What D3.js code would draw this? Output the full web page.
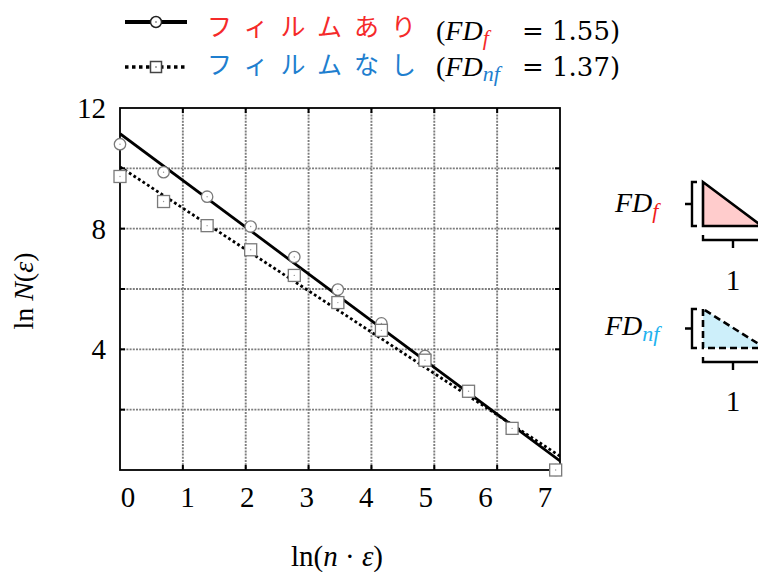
<!DOCTYPE html>
<html>
<head>
<meta charset="utf-8">
<script src="https://cdn.jsdelivr.net/npm/d3@7"></script>
<style>
  html, body { margin: 0; padding: 0; background: #fff; }
  svg { display: block; }
  text { font-family: "Liberation Serif", "Times New Roman", serif; fill: #000; }
  .jp { font-family: "Noto Sans CJK JP", sans-serif; }
  .num { font-family: "DejaVu Serif", serif; }
</style>
</head>
<body>
<svg id="chart" width="758" height="572"></svg>
<script>
// ln(n·ε) for each box size step
const xValues = [0, 0.693, 1.386, 2.079, 2.773, 3.466, 4.159, 4.852, 5.545, 6.238, 6.931];
// ln N(ε) with film
const filmValues = [10.8, 9.87, 9.06, 8.07, 7.06, 5.98, 4.86, 3.78, 2.61, 1.38, 0.0];
// ln N(ε) without film
const noFilmValues = [9.73, 8.90, 8.10, 7.30, 6.45, 5.55, 4.63, 3.64, 2.61, 1.38, 0.0];
// fractal dimensions (slopes of the fitted lines) and fitted intercepts
const fdFilm = 1.55, fdNoFilm = 1.37;
const interceptFilm = 11.15, interceptNoFilm = 10.05;
// axis ticks
const xTicks = [0, 1, 2, 3, 4, 5, 6, 7];
const yGrid = [2, 4, 6, 8, 10];
const yTickLabels = [4, 8, 12];

const svg = d3.select("#chart");
const pLeft = 120, pRight = 560, pTop = 108, pBottom = 470;

const x = d3.scaleLinear().domain([0, 7]).range([pLeft, pRight]);
const y = d3.scaleLinear().domain([0, 12]).range([pBottom, pTop]);
// tick label placement along the bottom edge
const xLabel = d3.scaleLinear().domain([0, 7]).range([128, 545]);

// dotted grid
const grid = svg.append("g").attr("stroke", "#7d7d7d").attr("stroke-width", 1.9)
  .attr("stroke-dasharray", "2,1.2");
grid.selectAll("line.v").data(xTicks.slice(1, -1)).join("line")
  .attr("x1", d => x(d)).attr("x2", d => x(d)).attr("y1", pTop).attr("y2", pBottom);
grid.selectAll("line.h").data(yGrid).join("line")
  .attr("y1", d => y(d)).attr("y2", d => y(d)).attr("x1", pLeft).attr("x2", pRight);

// inward tick marks on all four sides
const ticks = svg.append("g").attr("stroke", "#000").attr("stroke-width", 2);
ticks.selectAll("line.l").data(yGrid).join("line")
  .attr("x1", pLeft).attr("x2", pLeft + 5).attr("y1", d => y(d)).attr("y2", d => y(d));
ticks.selectAll("line.r").data(yGrid).join("line")
  .attr("x1", pRight - 5).attr("x2", pRight).attr("y1", d => y(d)).attr("y2", d => y(d));
ticks.selectAll("line.b").data(xTicks.slice(1, -1)).join("line")
  .attr("x1", d => x(d)).attr("x2", d => x(d)).attr("y1", pBottom).attr("y2", pBottom - 5);
ticks.selectAll("line.t").data(xTicks.slice(1, -1)).join("line")
  .attr("x1", d => x(d)).attr("x2", d => x(d)).attr("y1", pTop).attr("y2", pTop + 5);

// fitted lines, clipped to the frame
svg.append("clipPath").attr("id", "plotClip").append("rect")
  .attr("x", pLeft).attr("y", pTop).attr("width", pRight - pLeft).attr("height", pBottom - pTop);
const fit = (b, s) => [[0, b], [7, b - s * 7]];
const line = d3.line().x(d => x(d[0])).y(d => y(d[1]));
const fits = svg.append("g").attr("clip-path", "url(#plotClip)").attr("fill", "none");
fits.append("path").attr("d", line(fit(interceptNoFilm, fdNoFilm)))
  .attr("stroke", "#000").attr("stroke-width", 2.8).attr("stroke-dasharray", "2.8,2.6");
fits.append("path").attr("d", line(fit(interceptFilm, fdFilm)))
  .attr("stroke", "#000").attr("stroke-width", 2.8);

// frame
svg.append("rect").attr("x", pLeft).attr("y", pTop).attr("width", pRight - pLeft).attr("height", pBottom - pTop)
  .attr("fill", "none").attr("stroke", "#000").attr("stroke-width", 1.8);

// markers: circles (film), squares (no film) on top
const film = xValues.map((v, i) => [v, filmValues[i]]);
const noFilm = xValues.map((v, i) => [v, noFilmValues[i]]);
const circles = svg.append("g");
circles.selectAll("circle.m").data(film).join("circle")
  .attr("cx", d => x(d[0])).attr("cy", d => y(d[1])).attr("r", 5.7)
  .attr("fill", "#fff").attr("stroke", "#7a7a7a").attr("stroke-width", 1.3);
circles.selectAll("circle.c").data(film).join("circle")
  .attr("cx", d => x(d[0])).attr("cy", d => y(d[1])).attr("r", 0.7).attr("fill", "#999");
const squares = svg.append("g");
squares.selectAll("rect").data(noFilm).join("rect")
  .attr("x", d => x(d[0]) - 6).attr("y", d => y(d[1]) - 6).attr("width", 12).attr("height", 12)
  .attr("fill", "#fff").attr("stroke", "#7a7a7a").attr("stroke-width", 1.3);
squares.selectAll("circle").data(noFilm).join("circle")
  .attr("cx", d => x(d[0])).attr("cy", d => y(d[1])).attr("r", 0.7).attr("fill", "#999");

// tick labels
svg.append("g").selectAll("text").data(xTicks).join("text")
  .attr("x", d => xLabel(d)).attr("y", 507).attr("text-anchor", "middle")
  .attr("font-size", 29).text(d => d);
svg.append("g").selectAll("text").data(yTickLabels).join("text")
  .attr("x", 106).attr("y", d => y(d)).attr("dy", "0.34em").attr("text-anchor", "end")
  .attr("font-size", 29).text(d => d);

// axis titles
const xt = svg.append("text").attr("x", 337).attr("y", 566).attr("text-anchor", "middle").attr("font-size", 29);
xt.append("tspan").text("ln(");
xt.append("tspan").attr("font-style", "italic").text("n");
xt.append("tspan").text(" · ");
xt.append("tspan").attr("font-style", "italic").text("ε");
xt.append("tspan").text(")");

const yt = svg.append("text").attr("transform", "translate(33,291) rotate(-90)")
  .attr("text-anchor", "middle").attr("font-size", 28);
yt.append("tspan").text("ln ");
yt.append("tspan").attr("font-style", "italic").text("N");
yt.append("tspan").text("(");
yt.append("tspan").attr("font-style", "italic").text("ε");
yt.append("tspan").text(")");

// legend
const legendRows = [
  { name: "フィルムあり", sub: "f", fd: fdFilm, color: "#f52a2a", cy: 22, base: 40, jpBase: 36, dashed: false },
  { name: "フィルムなし", sub: "nf", fd: fdNoFilm, color: "#1f7fcf", cy: 67, base: 76, jpBase: 74, dashed: true }
];
const lg = svg.append("g");
legendRows.forEach(r => {
  lg.append("line").attr("x1", 125).attr("x2", 187).attr("y1", r.cy).attr("y2", r.cy)
    .attr("stroke", "#000").attr("stroke-width", r.dashed ? 3.5 : 4)
    .attr("stroke-dasharray", r.dashed ? "3.5,3.5" : null);
  if (r.dashed) {
    lg.append("rect").attr("x", 150.5).attr("y", r.cy - 5.5).attr("width", 11).attr("height", 11)
      .attr("fill", "#fff").attr("stroke", "#444").attr("stroke-width", 1.5);
  } else {
    lg.append("circle").attr("cx", 156).attr("cy", r.cy).attr("r", 5.5)
      .attr("fill", "#fff").attr("stroke", "#222").attr("stroke-width", 1.5);
  }
  lg.append("circle").attr("cx", 156).attr("cy", r.cy).attr("r", 0.8).attr("fill", "#444");
  lg.append("text").attr("class", "jp").attr("x", 207).attr("y", r.jpBase)
    .attr("font-size", 25).attr("letter-spacing", 12).style("fill", r.color).text(r.name);
  const t = lg.append("text").attr("x", 436).attr("y", r.base).attr("font-size", 28);
  t.append("tspan").text("(");
  t.append("tspan").attr("font-style", "italic").text("FD");
  t.append("tspan").attr("font-style", "italic").attr("font-size", 22).attr("dy", 5)
    .style("fill", r.color).text(r.sub);
  const n = lg.append("text").attr("class", "num").attr("x", 522).attr("y", r.base).attr("font-size", 26);
  n.text(`= ${d3.format(".2f")(r.fd)})`);
});

// slope triangles at the right edge
const tri = [
  { sub: "f", subColor: "#f01c1c", fill: "#ffcccc", dash: null, y0: 182, y1: 226, w: 59, fdX: 615, base: 212, oneBase: 290 },
  { sub: "nf", subColor: "#22b2ef", fill: "#cdeffa", dash: "7,4", y0: 309, y1: 348, w: 62, fdX: 605, base: 335, oneBase: 411 }
];
const an = svg.append("g");
tri.forEach(t => {
  const x0 = 703, mid = (t.y0 + t.y1) / 2;
  an.append("path").attr("d", `M${x0},${t.y0}L${x0},${t.y1}L${x0 + t.w},${t.y1}Z`)
    .attr("fill", t.fill).attr("stroke", "#000").attr("stroke-width", 2.6)
    .attr("stroke-dasharray", t.dash).attr("stroke-linejoin", "miter");
  // vertical bracket
  an.append("path").attr("d", `M697,${t.y0}L692,${t.y0}L692,${t.y1}L697,${t.y1}M692,${mid}L685,${mid}`)
    .attr("fill", "none").attr("stroke", "#000").attr("stroke-width", 2.4);
  // horizontal bracket
  const by = t.y1 + 14;
  an.append("path").attr("d", `M${x0},${by - 5}L${x0},${by}L${x0 + 62},${by}L${x0 + 62},${by - 5}M733,${by}L733,${by + 8}`)
    .attr("fill", "none").attr("stroke", "#000").attr("stroke-width", 2.4);
  const ft = an.append("text").attr("x", t.fdX).attr("y", t.base).attr("font-size", 28).attr("font-style", "italic");
  ft.append("tspan").text("FD");
  ft.append("tspan").attr("font-size", 22).attr("dy", 6).style("fill", t.subColor).text(t.sub);
  an.append("text").attr("x", 733).attr("y", t.oneBase).attr("text-anchor", "middle")
    .attr("font-size", 29).text("1");
});
</script>
</body>
</html>
